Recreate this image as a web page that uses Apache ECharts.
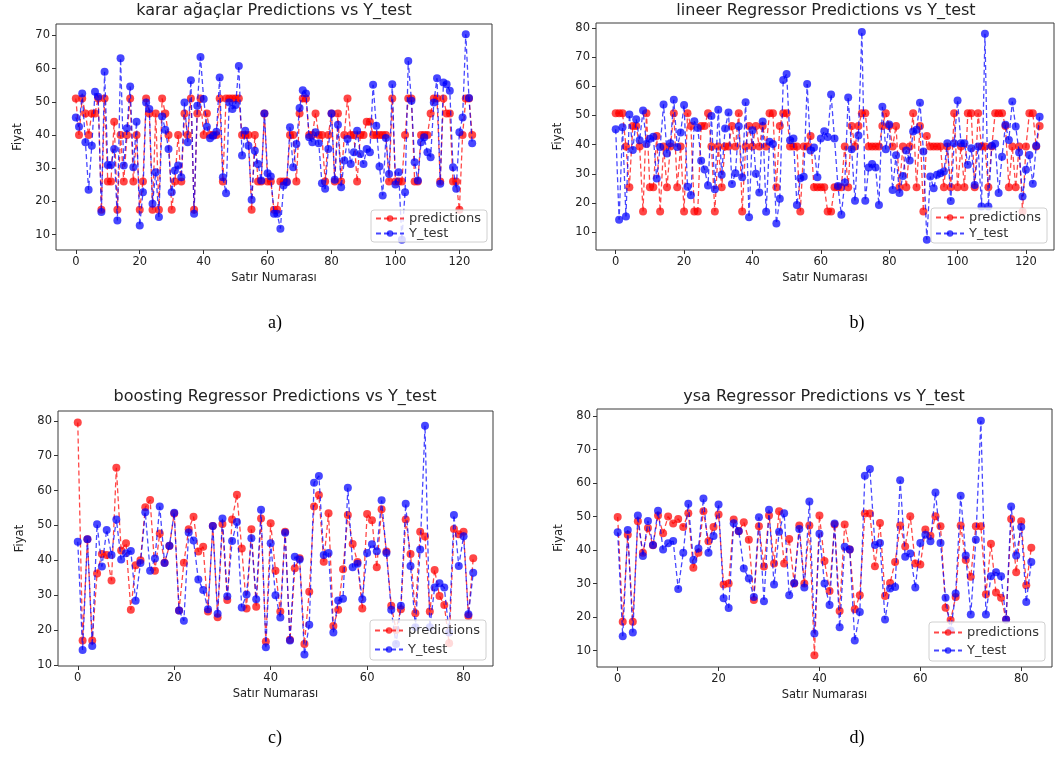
<!DOCTYPE html>
<html>
<head>
<meta charset="utf-8">
<script src="https://cdn.jsdelivr.net/npm/echarts@6/dist/echarts.min.js"></script>
<style>
  html, body { margin: 0; padding: 0; background: #fff; }
  #chart { width: 1055px; height: 774px; }
</style>
</head>
<body>
<div id="chart"></div>
<script>
// tick labels
const xTicksAB = [0, 20, 40, 60, 80, 100, 120]
const xTicksCD = [0, 20, 40, 60, 80]
const yTicksA = [10, 20, 30, 40, 50, 60, 70]
const yTicksB = [10, 20, 30, 40, 50, 60, 70, 80]
const yTicksCD = [10, 20, 30, 40, 50, 60, 70, 80]

const titles = [
  'karar ağaçlar Predictions vs Y_test',
  'lineer Regressor Predictions vs Y_test',
  'boosting Regressor Predictions vs Y_test',
  'ysa Regressor Predictions vs Y_test'
]
const captions = ['a)', 'b)', 'c)', 'd)']
const seriesNames = ['predictions', 'Y_test']

// a) karar ağaçlar
const predA = [
  51, 40, 51, 46.5, 40, 46.5, 46.5, 51, 17.5, 51,
  26, 26, 44, 17.5, 40, 26, 40, 51, 26, 40,
  17.5, 26, 51, 46.5, 17.5, 46.5, 17.5, 51, 46.5, 40,
  17.5, 26, 40, 26, 46.5, 40, 51, 17.5, 46.5, 51,
  40, 46.5, 40, 40, 40, 51, 26, 51, 51, 51,
  51, 51, 40, 40, 40, 17.5, 40, 26, 26, 46.5,
  26, 26, 17.5, 17.5, 26, 26, 26, 40, 40, 26,
  46.5, 51, 51, 40, 40, 46.5, 40, 40, 26, 40,
  46.5, 26, 46.5, 26, 40, 51, 40, 40, 26, 40,
  40, 44, 44, 40, 40, 40, 40, 40, 26, 51,
  26, 26, 26, 40, 51, 51, 26, 26, 40, 40,
  40, 46.5, 51, 51, 26, 51, 46.5, 46.5, 26, 26,
  17.5, 40, 51, 51, 40
]
const testA = [
  45.3, 42.5, 52.5, 37.8, 23.5, 36.8, 53, 51.5, 16.8, 59,
  31, 31, 35.8, 14.3, 63.1, 30.8, 42, 54.6, 30.3, 44,
  12.8, 22.8, 49.8, 47.8, 19.3, 28.8, 15.3, 45.6, 41.6, 35.8,
  22.8, 29.3, 30.8, 27.3, 49.8, 37.8, 56.5, 16.3, 48.8, 63.5,
  50.8, 42.5, 39, 39.8, 41, 57.3, 27.3, 22.5, 49.8, 47.8,
  49, 60.8, 33.8, 41.3, 36.8, 20.5, 35.3, 31.3, 26.3, 46.5,
  28.5, 27.5, 16.3, 16.3, 11.8, 24.8, 25.8, 42.3, 30.3, 37.3,
  48.1, 53.5, 52.5, 39.3, 37.8, 40.8, 37.5, 25.5, 23.8, 35.8,
  46.5, 26.5, 43.1, 24.3, 32.3, 38.8, 31.3, 34.8, 41.3, 34.3,
  31.3, 35.8, 34.8, 55.1, 42.8, 30.5, 21.8, 39.1, 28.3, 55.3,
  25.1, 28.8, 8.5, 22.8, 62.3, 50.3, 31.8, 26.3, 37.8, 39.3,
  34.8, 33.3, 49.8, 57.1, 25.3, 55.8, 55.3, 53.3, 30.3, 23.8,
  40.8, 45.3, 70.3, 51.1, 37.5
]

// b) lineer
const predB = [
  50.8, 50.8, 50.8, 39.4, 25.4, 46.4, 46.4, 39.4, 17.1, 50.8,
  25.4, 25.4, 43, 17.1, 39.4, 25.4, 39.4, 50.8, 25.4, 39.4,
  17.1, 50.8, 46.4, 17.1, 17.1, 46.4, 46.4, 50.8, 39.4, 17.1,
  39.4, 25.4, 39.4, 39.4, 46.4, 39.4, 50.8, 17.1, 39.4, 46.4,
  39.4, 46.4, 39.4, 46.4, 39.4, 50.8, 50.8, 25.4, 46.4, 50.8,
  50.8, 39.4, 39.4, 39.4, 17.1, 39.4, 39.4, 43, 25.4, 25.4,
  25.4, 25.4, 17.1, 17.1, 25.4, 25.4, 25.4, 39.4, 25.4, 46.4,
  39.4, 46.4, 50.8, 50.8, 39.4, 39.4, 39.4, 39.4, 46.4, 50.8,
  46.4, 39.4, 46.4, 25.4, 39.4, 25.4, 39.4, 50.8, 25.4, 46.4,
  17.1, 43, 39.4, 39.4, 39.4, 39.4, 25.4, 39.4, 25.4, 50.8,
  25.4, 39.4, 25.4, 50.8, 50.8, 25.4, 50.8, 39.4, 39.4, 25.4,
  39.4, 50.8, 50.8, 50.8, 46.4, 25.4, 39.4, 25.4, 39.4, 17.1,
  39.4, 50.8, 50.8, 39.4, 46.4
]
const testB = [
  45.3, 14.3, 46, 15.4, 50.3, 38.2, 48.7, 41.5, 51.7, 40.2,
  42, 42.7, 28.4, 39.2, 53.8, 37, 40.5, 55.4, 39.2, 44.2,
  53.6, 25.6, 22.7, 48, 45.7, 34.5, 31.5, 26, 49.8, 24.7,
  52, 29.7, 45.5, 51, 26.5, 30.2, 46.3, 28.8, 54.5, 15.1,
  44.9, 30, 23.6, 47.9, 17, 41, 40.2, 13, 21.5, 62.2,
  64.2, 41.5, 42.1, 19.3, 28.5, 29, 60.8, 38, 39, 28.8,
  42.1, 44.6, 42.6, 57.2, 42.1, 25.8, 16, 27, 56.2, 38.4,
  20.8, 43.1, 78.6, 20.8, 32.2, 33.4, 32.2, 19.3, 53, 38.4,
  46.9, 24.5, 36.4, 23.4, 29.3, 38, 34.6, 44.5, 45.1, 54.4,
  37.7, 7.4, 29.1, 25.1, 29.7, 30.2, 30.8, 40.5, 20.7, 40.5,
  55.1, 40.5, 40.5, 33.1, 38.8, 26.2, 39.4, 18.8, 78, 18.8,
  39.6, 40.3, 23.4, 35.9, 46.8, 41.6, 54.8, 46.2, 37.3, 22.2,
  31.4, 36.5, 26.6, 39.6, 49.6
]

// c) boosting, d) ysa  (same Y_test)
const predC = [
  79.5, 17, 46, 17, 36.2, 41.8, 41.5, 34.2, 66.5, 42.8,
  44.9, 25.8, 38.6, 40, 55.2, 57.3, 37, 47.7, 39.3, 44.1,
  53.4, 25.6, 39.3, 48.9, 52.5, 42.5, 43.9, 25.3, 49.8, 23.7,
  50.4, 28.6, 51.7, 58.8, 43.4, 26.2, 48.9, 26.7, 52, 16.7,
  50.6, 37, 25.3, 48.2, 17.2, 37.7, 40.6, 16, 31, 55.4,
  58.7, 39.6, 53.5, 21.2, 25.8, 37.4, 53, 44.7, 39.5, 26.2,
  53.3, 51.5, 38, 54.6, 42.5, 27, 20, 26, 51.7, 41.8,
  24.8, 48.2, 46.8, 25.3, 37.2, 29.8, 27.2, 16.2, 49, 47.5,
  48.2, 24, 40.6
]
const predD = [
  49.9, 18.6, 44.6, 18.6, 48.6, 39.2, 46.6, 41.4, 50.3, 45,
  50, 47.9, 49.3, 46.9, 51, 34.7, 39.2, 51.6, 42.6, 46.9,
  50.6, 29.7, 30, 49.1, 45.6, 48.3, 43.1, 25.1, 47.1, 35.1,
  50.3, 36, 51.6, 36, 43.3, 30, 47.3, 30, 47.3, 8.6,
  50.3, 36.7, 27.8, 47.6, 21.8, 47.6, 40.2, 22.3, 26.5, 50.9,
  50.9, 35.2, 48.1, 26.3, 30.2, 36.4, 47.3, 41.1, 50.1, 36,
  35.7, 46.1, 44.3, 50.1, 47.1, 22.8, 19.1, 26, 47.3, 37,
  32, 47.1, 47.1, 26.8, 41.9, 27.3, 25.8, 19.3, 49.3, 33.4,
  48.6, 29.5, 40.7
]
const testCD = [
  45.3, 14.3, 46, 15.4, 50.3, 38.2, 48.7, 41.5, 51.7, 40.2,
  42, 42.7, 28.4, 39.2, 53.8, 37, 40.5, 55.4, 39.2, 44.2,
  53.6, 25.6, 22.7, 48, 45.7, 34.5, 31.5, 26, 49.8, 24.7,
  52, 29.7, 45.5, 51, 26.5, 30.2, 46.3, 28.8, 54.5, 15.1,
  44.9, 30, 23.6, 47.9, 17, 41, 40.2, 13, 21.5, 62.2,
  64.2, 41.5, 42.1, 19.3, 28.5, 29, 60.8, 38, 39, 28.8,
  42.1, 44.6, 42.6, 57.2, 42.1, 25.8, 16, 27, 56.2, 38.4,
  20.8, 43.1, 78.6, 20.8, 32.2, 33.4, 32.2, 19.3, 53, 38.4,
  46.9, 24.5, 36.4
]

const RED = 'rgba(255, 0, 0, 0.72)'
const BLUE = 'rgba(0, 0, 255, 0.72)'
const FONT = '"DejaVu Sans", sans-serif'

// layout of the four sub plots (pixel boxes + axis limits)
const panels = [
  { grid: { left: 56, top: 24, width: 436, height: 226 }, xr: [-6.2, 130.2], yr: [5.4, 73.4],
    xTicks: xTicksAB, yTicks: yTicksA, pred: predA, test: testA,
    titleXY: [274, 11], legend: { right: 568, bottom: 532, gap: 2, pad: 2 }, capXY: [275, 323] },
  { grid: { left: 596, top: 23, width: 458, height: 227 }, xr: [-5.76, 128.2], yr: [3.9, 81.7],
    xTicks: xTicksAB, yTicks: yTicksB, pred: predB, test: testB,
    titleXY: [826, 11], legend: { right: 8, bottom: 531, gap: 3, pad: 3 }, capXY: [857, 323] },
  { grid: { left: 58, top: 411, width: 435, height: 255 }, xr: [-4.1, 86.1], yr: [9.7, 82.8],
    xTicks: xTicksCD, yTicks: yTicksCD, pred: predC, test: testCD,
    titleXY: [275, 397], legend: { right: 569, bottom: 114, gap: 6, pad: 4 }, capXY: [275, 738] },
  { grid: { left: 597, top: 409, width: 455, height: 258 }, xr: [-4.1, 86.1], yr: [5.1, 82.1],
    xTicks: xTicksCD, yTicks: yTicksCD, pred: predD, test: testCD,
    titleXY: [824, 397], legend: { right: 10, bottom: 113, gap: 5, pad: 4 }, capXY: [857, 738] }
]

const chart = echarts.init(document.getElementById('chart'), null, { renderer: 'canvas' })

const grids = [], xAxes = [], yAxes = [], series = [], legends = [], graphics = []

panels.forEach((p, k) => {
  grids.push(Object.assign({ show: true, borderColor: '#3a3a3a', borderWidth: 1, containLabel: false }, p.grid))

  const labelStyle = { color: '#222', fontSize: 11.5, fontFamily: FONT }
  xAxes.push({
    type: 'value', gridIndex: k, min: p.xr[0], max: p.xr[1], position: 'bottom',
    axisLine: { show: false, onZero: false },
    axisTick: { show: true, customValues: p.xTicks, length: 4, lineStyle: { color: '#333' } },
    axisLabel: Object.assign({ customValues: p.xTicks, margin: 6 }, labelStyle),
    splitLine: { show: false },
    name: 'Satır Numarası', nameLocation: 'middle', nameGap: 22,
    nameTextStyle: { color: '#222', fontSize: 11.5, fontFamily: FONT }
  })
  yAxes.push({
    type: 'value', gridIndex: k, min: p.yr[0], max: p.yr[1], position: 'left',
    axisLine: { show: false, onZero: false },
    axisTick: { show: true, customValues: p.yTicks, length: 4, lineStyle: { color: '#333' } },
    axisLabel: Object.assign({ customValues: p.yTicks, margin: 6 }, labelStyle),
    splitLine: { show: false },
    name: 'Fiyat', nameLocation: 'middle', nameGap: 32,
    nameTextStyle: { color: '#222', fontSize: 11.5, fontFamily: FONT }
  })

  const mk = (name, values, color, z) => ({
    name, type: 'line', xAxisIndex: k, yAxisIndex: k, z,
    data: values.map((v, i) => [i, v]),
    symbol: 'circle', symbolSize: 8, showAllSymbol: true,
    lineStyle: { color, width: 1.3, type: [5, 3] },
    itemStyle: { color, borderWidth: 0 },
    emphasis: { disabled: true },
    animation: false
  })
  series.push(mk(seriesNames[0], p.pred, RED, 2))
  series.push(mk(seriesNames[1], p.test, BLUE, 3))

  legends.push({
    data: seriesNames, orient: 'vertical',
    right: p.legend.right, bottom: p.legend.bottom,
    itemWidth: 28, itemHeight: 8, itemGap: p.legend.gap,
    padding: [p.legend.pad, 6, p.legend.pad, 4],
    backgroundColor: 'rgba(255,255,255,0.8)',
    borderColor: '#d0d0d0', borderWidth: 1, borderRadius: 3,
    selectedMode: false,
    textStyle: { color: '#333', fontSize: 13, fontFamily: FONT },
    z: 10
  })

  graphics.push({
    type: 'text', x: p.titleXY[0], y: p.titleXY[1],
    style: { text: titles[k], font: '16px ' + FONT, fill: '#222',
      align: 'center', verticalAlign: 'middle', textAlign: 'center', textVerticalAlign: 'middle' }
  })
  graphics.push({
    type: 'text', x: p.capXY[0], y: p.capXY[1],
    style: { text: captions[k], font: '18px "Liberation Serif", serif', fill: '#000',
      align: 'center', verticalAlign: 'middle', textAlign: 'center', textVerticalAlign: 'middle' }
  })
})

chart.setOption({
  backgroundColor: '#fff',
  animation: false,
  grid: grids,
  xAxis: xAxes,
  yAxis: yAxes,
  legend: legends,
  series: series,
  graphic: graphics
})
</script>
</body>
</html>
